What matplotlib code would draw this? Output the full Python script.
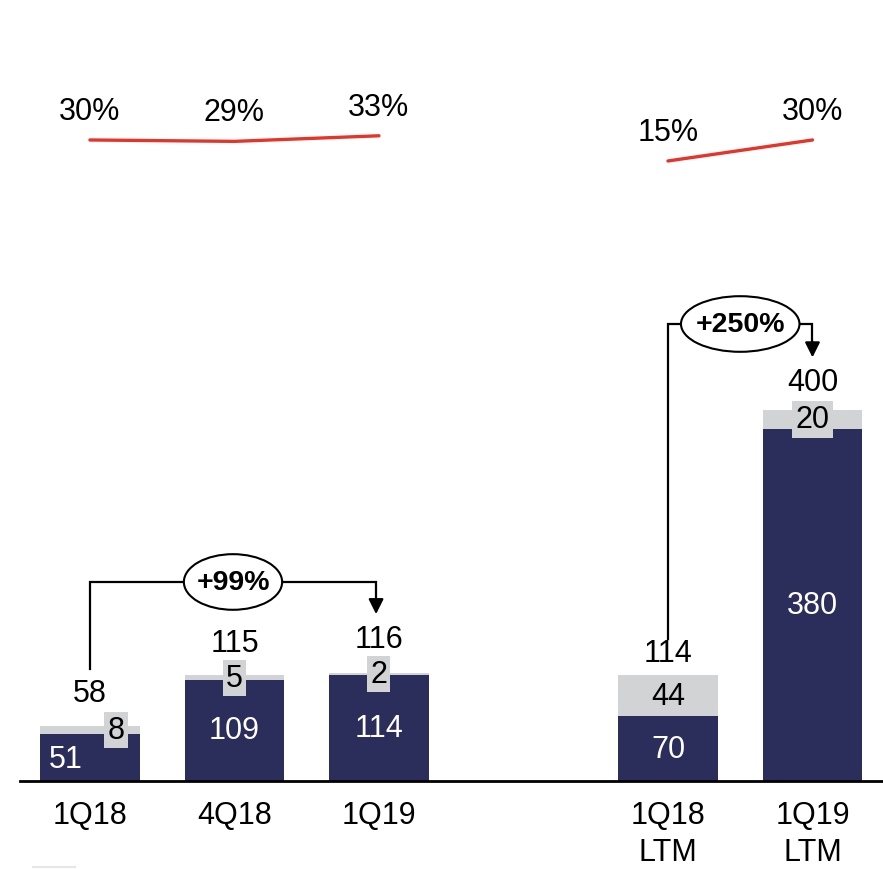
import matplotlib
matplotlib.use("Agg")
import matplotlib.pyplot as plt
from matplotlib import font_manager
from matplotlib.patches import Ellipse

# ---- data ----
categories = ["1Q18", "4Q18", "1Q19", "1Q18\nLTM", "1Q19\nLTM"]
positions = [0, 1, 2, 4, 5]
navy_vals = [51, 109, 114, 70, 380]
gray_vals = [8, 5, 2, 44, 20]
totals = [58, 115, 116, 114, 400]
margin_left = [30, 29, 33]
margin_right = [15, 30]
growth_labels = ["+99%", "+250%"]

# ---- style ----
names = {f.name for f in font_manager.fontManager.ttflist}
family = ["Liberation Sans Narrow", "Liberation Sans"] if "Liberation Sans Narrow" in names else ["Liberation Sans"]
plt.rcParams["font.family"] = family

NAVY = "#2b2d5a"
GRAY = "#d2d3d5"
RED = "#e5352b"

fig = plt.figure(figsize=(8.83, 8.70), dpi=100)
ax = fig.add_axes([20 / 883, 88 / 870, 863 / 883, 782 / 870])
ax.set_xlim(-0.484, 5.488)
ax.set_ylim(0, 843.6)

bw = 0.69
ax.bar(positions, navy_vals, width=bw, color=NAVY, zorder=2)
ax.bar(positions, gray_vals, width=bw, bottom=navy_vals, color=GRAY, zorder=2)

fs = 22
navy_dx = [-0.17, 0, 0, 0, 0]
gray_dx = [0.18, 0, 0, 0, 0]
tot_off = [36, 35, 37, 24, 30]
for x, n, g, t, ndx, gdx, to in zip(positions, navy_vals, gray_vals, totals, navy_dx, gray_dx, tot_off):
    ny = n / 2 if ndx == 0 else 24
    ax.text(x + ndx, ny, str(n), color="white", fontsize=fs, ha="center", va="center", zorder=4)
    ax.text(x + gdx, n + g / 2, str(g), color="black", fontsize=fs, ha="center", va="center", zorder=4,
            bbox=dict(boxstyle="square,pad=0.1", fc=GRAY, ec="none"))
    ax.text(x, n + g + to, str(t), color="black", fontsize=fs, ha="center", va="center", zorder=4)

# axes styling
for s in ["top", "right", "left"]:
    ax.spines[s].set_visible(False)
ax.spines["bottom"].set_linewidth(2)
ax.set_yticks([])
ax.set_xticks(positions)
ax.set_xticklabels(categories, fontsize=fs, linespacing=1.3)
ax.tick_params(axis="x", length=0, pad=14)

# growth brackets
def bracket(x0, y0, ytop, x1, ytip, label, ew):
    ax.plot([x0, x0, x1, x1], [y0, ytop, ytop, ytip + 16], color="black", lw=1.6, zorder=3,
            solid_joinstyle="miter")
    ax.annotate("", xy=(x1, ytip), xytext=(x1, ytip + 17),
                arrowprops=dict(arrowstyle="-|>,head_length=0.9,head_width=0.45", color="black", lw=1.6,
                                shrinkA=0, shrinkB=0), zorder=3)
    xm = (x0 + x1) / 2
    ax.add_patch(Ellipse((xm, ytop), ew, 60, fc="white", ec="black", lw=1.5, zorder=4))
    ax.text(xm, ytop, label, fontsize=20.5, fontweight="bold", ha="center", va="center", zorder=5)

bracket(0, 120.8, 214.7, 1.98, 180, growth_labels[0], 0.68)
bracket(4, 153, 493, 5, 457, growth_labels[1], 0.82)

# margin lines
ax2 = ax.twinx()
ax2.set_ylim(-427.9, 130.7)
ax2.axis("off")
ax2.plot(positions[:3], margin_left, color=RED, lw=2.4, solid_capstyle="round")
ax2.plot(positions[3:], margin_right, color=RED, lw=2.4, solid_capstyle="round")
for x, v in zip(positions[:3] + positions[3:], margin_left + margin_right):
    ax2.annotate(f"{v}%", (x, v), xytext=(0, 21), textcoords="offset points",
                 fontsize=fs, ha="center", va="center")

# small footnote mark
fig.add_artist(plt.Line2D([33 / 883, 75 / 883], [2 / 870, 2 / 870], color="#e6e6e6", lw=1.5))

fig.savefig("out.png", dpi=100)
